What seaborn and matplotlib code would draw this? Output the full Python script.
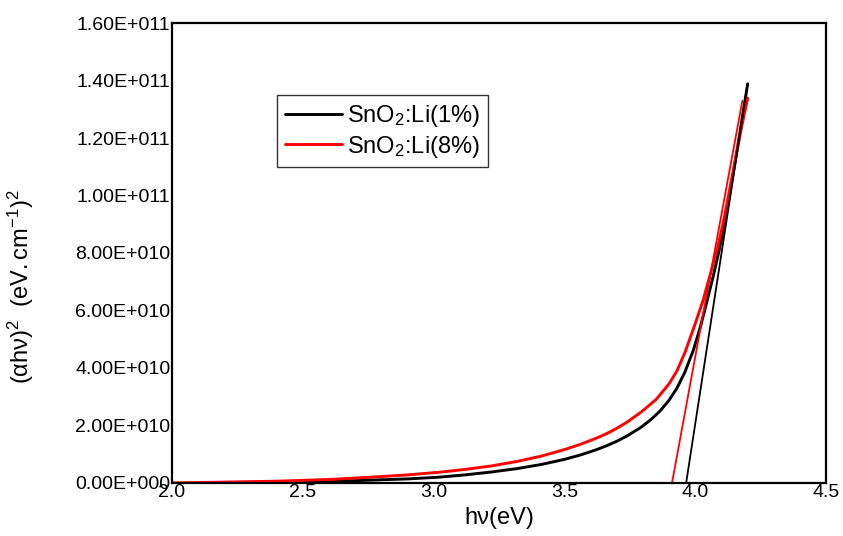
import matplotlib
matplotlib.use("Agg")
import matplotlib.pyplot as plt
import seaborn as sns
import pandas as pd

# Tauc plot data: photon energy (eV) vs (alpha*h*nu)^2 (eV.cm^-1)^2
hv_li1 = [2.15, 2.3, 2.5, 2.7, 2.9, 3.02, 3.12, 3.22, 3.32, 3.41, 3.5, 3.56, 3.62,
          3.66, 3.70, 3.74, 3.79, 3.83, 3.865, 3.90, 3.93, 3.96, 3.993, 4.02,
          4.044, 4.07, 4.09, 4.11, 4.13, 4.152, 4.175, 4.2]
ah2_li1 = [0.1e9, 0.2e9, 0.4e9, 0.8e9, 1.4e9, 2.0e9, 2.8e9, 3.8e9, 5.0e9, 6.4e9,
           8.2e9, 9.7e9, 11.5e9, 12.9e9, 14.5e9, 16.4e9, 19.2e9, 22.0e9, 25.0e9,
           28.8e9, 33.0e9, 38.5e9, 46.3e9, 54.5e9, 63.0e9, 72.5e9, 80.5e9, 89.5e9,
           99.5e9, 111.5e9, 124.5e9, 138.8e9]

hv_li8 = [2.0, 2.2, 2.4, 2.6, 2.76, 2.9, 3.02, 3.12, 3.22, 3.32, 3.41, 3.5, 3.56,
          3.62, 3.66, 3.70, 3.74, 3.795, 3.85, 3.90, 3.93, 3.961, 4.0, 4.03,
          4.06, 4.087, 4.11, 4.13, 4.152, 4.175, 4.2]
ah2_li8 = [0.0, 0.3e9, 0.6e9, 1.2e9, 2.0e9, 2.8e9, 3.7e9, 4.7e9, 5.9e9, 7.5e9,
           9.3e9, 11.6e9, 13.4e9, 15.5e9, 17.1e9, 19.0e9, 21.2e9, 24.8e9, 29.0e9,
           34.5e9, 39.0e9, 45.5e9, 55.5e9, 63.6e9, 73.5e9, 82.5e9, 92.0e9, 101.5e9,
           112.0e9, 123.0e9, 133.9e9]

# Linear extrapolations to the energy axis (band gap estimates)
fit_hv_li1 = [3.965, 4.20]
fit_ah2_li1 = [0.0, 1.39e11]
fit_hv_li8 = [3.911, 4.18]
fit_ah2_li8 = [0.0, 1.33e11]

labels = ["SnO$_2$:Li(1%)", "SnO$_2$:Li(8%)"]
colors = ["#000000", "#ff0000"]

xticks = [2.0, 2.5, 3.0, 3.5, 4.0, 4.5]
yticks = [0, 2e10, 4e10, 6e10, 8e10, 1e11, 1.2e11, 1.4e11, 1.6e11]
ytick_labels = ["0.00E+000", "2.00E+010", "4.00E+010", "6.00E+010", "8.00E+010",
                "1.00E+011", "1.20E+011", "1.40E+011", "1.60E+011"]

sns.set_style("white")
plt.rcParams["font.family"] = ["Liberation Sans", "DejaVu Sans"]
plt.rcParams["mathtext.fontset"] = "custom"
plt.rcParams["mathtext.rm"] = "Liberation Sans"
plt.rcParams["mathtext.it"] = "Liberation Sans"
plt.rcParams["mathtext.bf"] = "Liberation Sans:bold"
for key in ["text.color", "axes.labelcolor", "xtick.color", "ytick.color"]:
    plt.rcParams[key] = "black"

df = pd.concat([
    pd.DataFrame({"hv": hv_li1, "ah2": ah2_li1, "sample": labels[0]}),
    pd.DataFrame({"hv": hv_li8, "ah2": ah2_li8, "sample": labels[1]}),
])

fig = plt.figure(figsize=(8.43, 5.36), dpi=100)
ax = fig.add_axes([0.204, 0.099, 0.776, 0.858])

sns.lineplot(data=df, x="hv", y="ah2", hue="sample", palette=colors,
             linewidth=2.1, ax=ax, sort=True, estimator=None)

ax.plot(fit_hv_li1, fit_ah2_li1, color=colors[0], linewidth=1.3)
ax.plot(fit_hv_li8, fit_ah2_li8, color=colors[1], linewidth=1.3)

ax.set_xlim(2.0, 4.5)
ax.set_ylim(0, 1.6e11)
ax.set_xticks(xticks)
ax.set_xticklabels([f"{t:.1f}" for t in xticks], fontsize=14)
ax.set_yticks(yticks)
ax.set_yticklabels(ytick_labels, fontsize=14)
ax.tick_params(axis="both", length=0, pad=1.0)

for s in ax.spines.values():
    s.set_color("black")
    s.set_linewidth(1.6)

ax.set_xlabel("h\u03bd(eV)", fontsize=17, labelpad=4)
ax.set_ylabel("")
fig.text(0.025, 1 - 287 / 536,
         r"$(\alpha\mathrm{h}\nu)^2\ \ (\mathrm{eV.cm}^{-1})^2$",
         rotation=90, fontsize=17, ha="center", va="center")

leg = ax.legend(loc="upper left", bbox_to_anchor=(0.161, 0.843), fontsize=17,
                frameon=True, fancybox=False, edgecolor="black",
                handlelength=2.4, handletextpad=0.25, borderpad=0.32,
                labelspacing=0.2, borderaxespad=0.0, title=None)
leg.get_frame().set_linewidth(1.0)

fig.savefig("out.png", dpi=100)
